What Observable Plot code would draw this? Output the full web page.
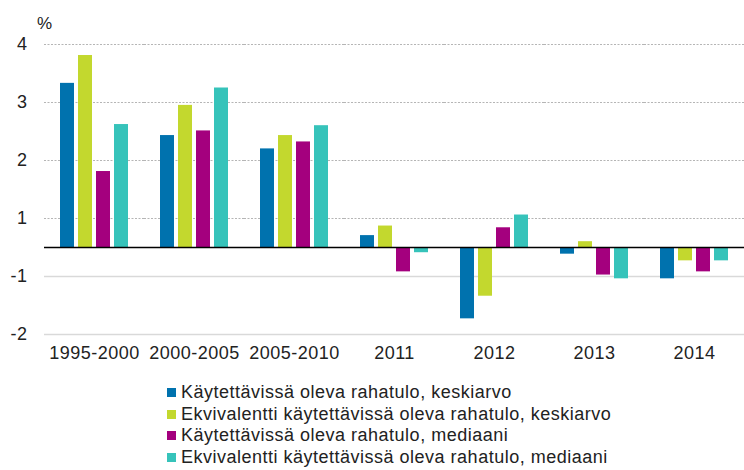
<!DOCTYPE html>
<html><head><meta charset="utf-8">
<script src="https://cdn.jsdelivr.net/npm/d3@7"></script>
<script src="https://cdn.jsdelivr.net/npm/@observablehq/plot@0.6"></script>
<style>
body{margin:0;background:#fff;font-family:"Liberation Sans",Arial,sans-serif;}
#wrap{position:relative;width:744px;height:470px;overflow:hidden;}
#unit{position:absolute;left:37px;top:14px;font-size:17px;color:#222;}
#legend{position:absolute;left:167px;top:382px;font-size:18px;letter-spacing:0.5px;line-height:21.5px;color:#222;}
.item{display:flex;align-items:center;white-space:nowrap;}
.sw{width:9px;height:9px;margin-right:5px;flex:none;}
</style></head><body>
<div id="wrap"><div id="chart"></div><div id="unit">%</div><div id="legend"></div></div>
<script>
const periods = ["1995-2000","2000-2005","2005-2010","2011","2012","2013","2014"];
const seriesNames = [
  "Käytettävissä oleva rahatulo, keskiarvo",
  "Ekvivalentti käytettävissä oleva rahatulo, keskiarvo",
  "Käytettävissä oleva rahatulo, mediaani",
  "Ekvivalentti käytettävissä oleva rahatulo, mediaani"
];
const seriesColors = ["#0072ae","#c3d82e","#a4007e","#36c3ba"];
const kaytKeskiarvo = [3.33, 2.43, 2.20, 0.41, -1.73, -0.23, -1.04];
const ekvKeskiarvo  = [3.81, 2.95, 2.43, 0.74, -1.34, 0.20, -0.46];
const kaytMediaani  = [1.81, 2.51, 2.32, -0.84, 0.68, -0.95, -0.84];
const ekvMediaani   = [2.62, 3.25, 2.60, -0.18, 1.06, -1.04, -0.46];
const yTicks = [4, 3, 2, 1, -1, -2];
const yBreaks = [-2, -1, 1, 2, 3, 4];

const seriesValues = [kaytKeskiarvo, ekvKeskiarvo, kaytMediaani, ekvMediaani];
const rows = [];
periods.forEach((p, i) => seriesNames.forEach((s, j) => rows.push({period: p, series: s, value: seriesValues[j][i]})));

const chart = Plot.plot({
  width: 744, height: 375,
  marginLeft: 44, marginRight: 0, marginTop: 44, marginBottom: 41,
  style: 'font-family:"Liberation Sans",Arial,sans-serif;font-size:18px;letter-spacing:0.5px;color:#222;background:transparent;overflow:visible;',
  fx: {domain: periods, padding: 0, label: null, axis: "bottom", tickSize: 0, tickPadding: 12},
  x: {domain: seriesNames, paddingInner: 0.214, paddingOuter: 0.853, axis: null},
  y: {type: "linear", domain: yBreaks, ticks: yTicks, tickSize: 0, tickPadding: 17, label: null, tickFormat: d => String(d)},
  color: {domain: seriesNames, range: seriesColors},
  marks: [
    Plot.ruleY(yTicks.filter(d => d > 0), {stroke: "#b5b5b5", strokeDasharray: "2,1.5"}),
    Plot.ruleY(yTicks.filter(d => d < 0), {stroke: "#d9d9d9", strokeWidth: 1.5}),
    Plot.barY(rows, {fx: "period", x: "series", y: "value", fill: "series"}),
    Plot.ruleY([0], {stroke: "#000", strokeWidth: 1.5})
  ]
});
document.getElementById("chart").appendChild(chart);

const leg = d3.select("#legend");
seriesNames.forEach((s, i) => {
  const it = leg.append("div").attr("class", "item");
  it.append("span").attr("class", "sw").style("background", seriesColors[i]);
  it.append("span").text(s);
});
</script>
</body></html>
